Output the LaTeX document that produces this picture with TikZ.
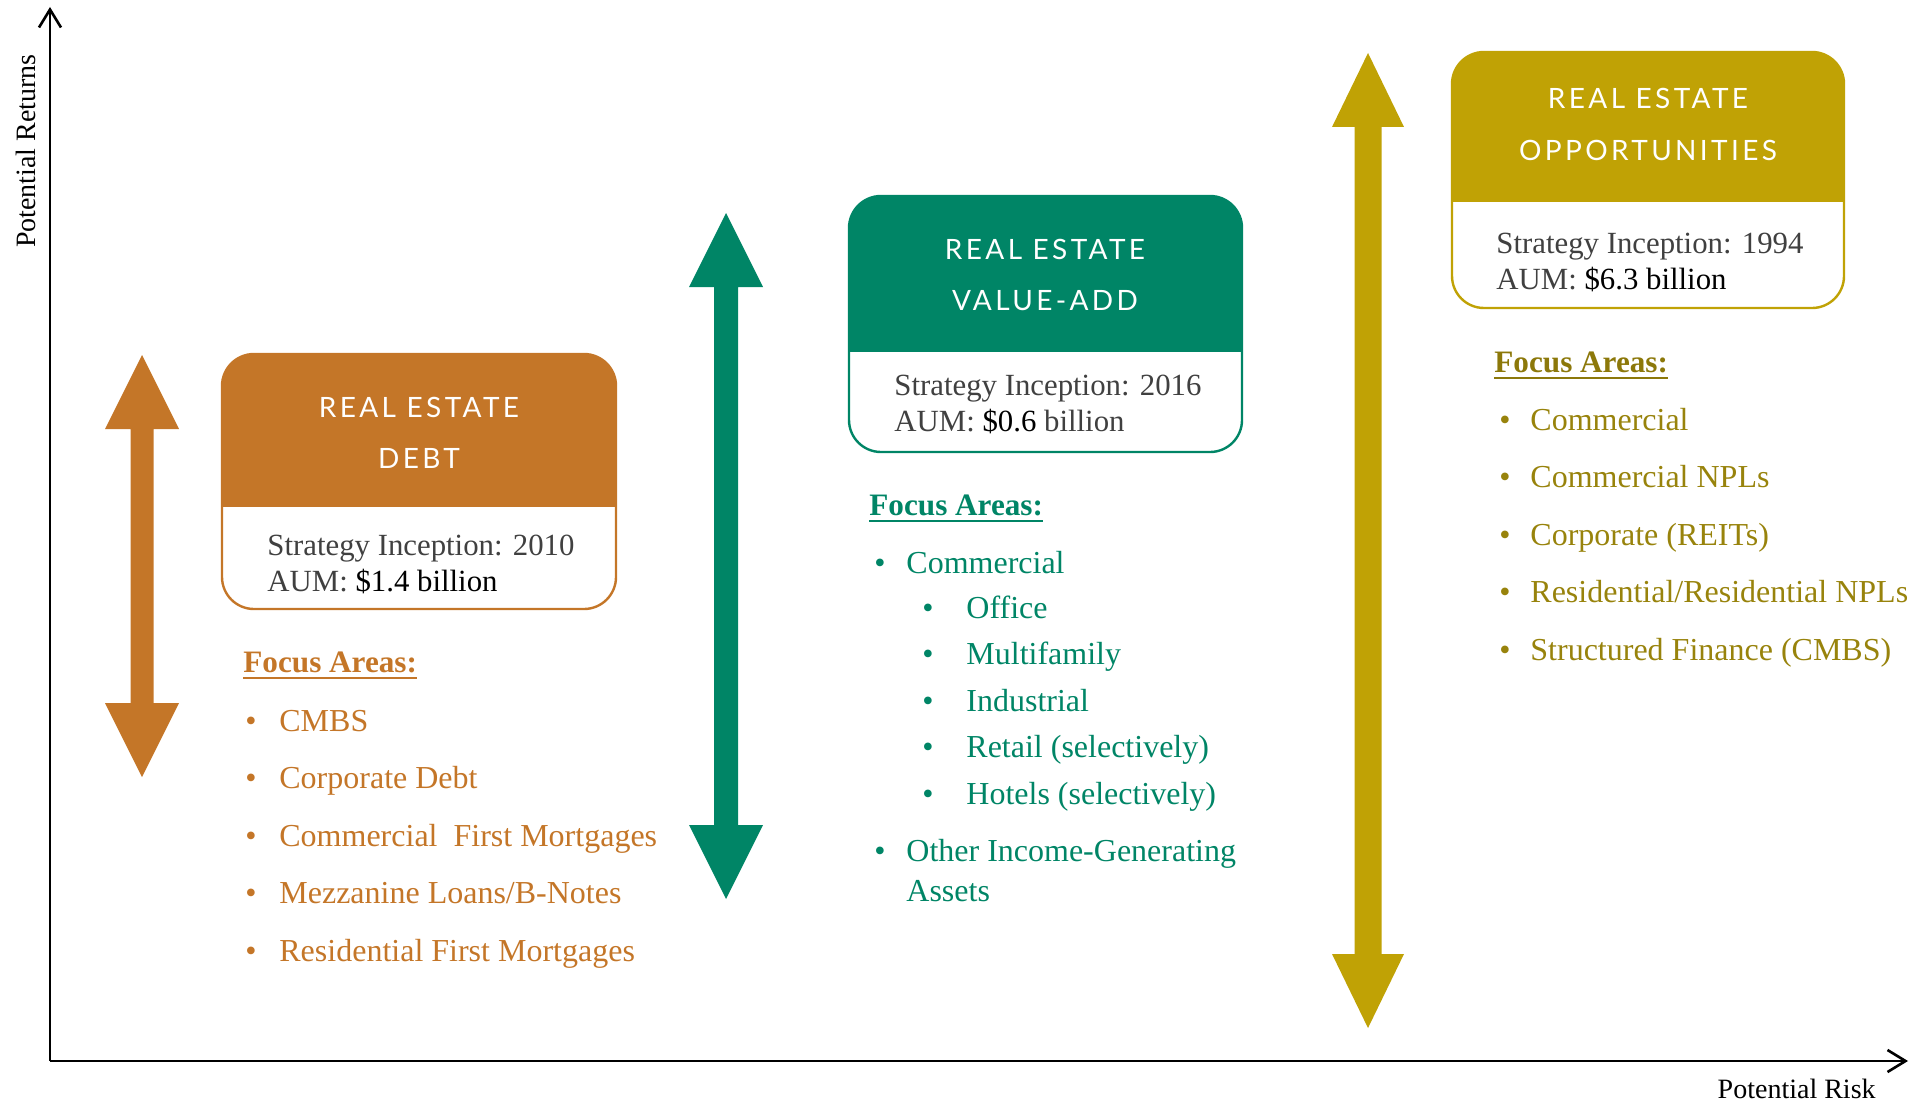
\documentclass[tikz,border=0pt]{standalone}
\usepackage{fontspec}
\setmainfont{Liberation Serif}
\newfontfamily\headfont[LetterSpace=12]{Lato}
\usetikzlibrary{arrows.meta}

\definecolor{debtcol}{RGB}{196,118,40}
\definecolor{valuecol}{RGB}{0,133,102}
\definecolor{oppcol}{RGB}{192,162,5}
\definecolor{opptext}{RGB}{152,131,12}
\definecolor{oppfocus}{RGB}{140,120,10}
\definecolor{infogray}{RGB}{64,64,64}

% two-headed block arrow: colour, x, top, bottom, half shaft, half head
\newcommand{\twoway}[6]{%
  \fill[#1] (#2,#3) -- (#2+#6,#3+74) -- (#2+#5,#3+74) -- (#2+#5,#4-74) -- (#2+#6,#4-74)
    -- (#2,#4) -- (#2-#6,#4-74) -- (#2-#5,#4-74) -- (#2-#5,#3+74) -- (#2-#6,#3+74) -- cycle;}

% strategy box: colour, left, top, header bottom, right, bottom
\newcommand{\stratbox}[6]{%
  \begin{scope}
    \clip[rounded corners=16pt] (#2,#3) rectangle (#5,#6);
    \fill[#1] (#2,#3) rectangle (#5,#4);
  \end{scope}
  \draw[#1,box line,rounded corners=16pt] (#2,#3) rectangle (#5,#6);}

\begin{document}
\begin{tikzpicture}[x=0.5pt,y=-0.5pt,
    axis/.style={line width=1.3pt,-{Straight Barb[length=9pt,width=11pt,line width=1.3pt]}},
    axis label/.style={font=\fontsize{14}{16}\selectfont,inner sep=0pt},
    head text/.style={font=\headfont\fontsize{14}{16}\selectfont,text=white,inner sep=0pt,anchor=base},
    info text/.style={font=\fontsize{15.4}{18}\selectfont,text=infogray,inner sep=0pt,anchor=base west},
    focus/.style={font=\bfseries\fontsize{15.6}{18}\selectfont,inner sep=0pt,anchor=base west},
    item/.style={font=\fontsize{16}{18}\selectfont,inner sep=0pt,anchor=base west},
    box line/.style={line width=1.2pt},
    under line/.style={line width=1.2pt}]
    \useasboundingbox (0,0) rectangle (1927,1102);

    % axes
    \coordinate (origin) at (50,1061);
    \coordinate (ytop) at (50,7);
    \coordinate (xend) at (1908,1061);
    \draw[axis] (origin) -- (ytop);
    \draw[axis] (origin) -- (xend);
    \node[axis label,rotate=90,anchor=base] (returns) at (35,151) {Potential Returns};
    \node[axis label,anchor=base east] (risk) at (1876,1098) {Potential Risk};

    % range arrows
    \twoway{debtcol}{142}{355}{777}{11.5}{37}
    \twoway{valuecol}{726}{213}{899}{12}{37}
    \twoway{oppcol}{1368}{53}{1028}{13.5}{36}

    % debt
    \stratbox{debtcol}{222}{354}{507}{616}{609}
    \node[head text] (debt t1) at (419,417) {REAL ESTATE};
    \node[head text] (debt t2) at (419,468) {DEBT};
    \node[info text] (debt since) at (267,555) {Strategy Inception: 2010};
    \node[info text] (debt aum) at (267,591) {AUM: {\color{black}\$1.4 billion}};
    \node[focus,text=debtcol] (debt focus) at (243,672) {Focus Areas:};
    \draw[under line,debtcol] ([yshift=-3pt]debt focus.base west) -- ([yshift=-3pt]debt focus.base east);
    \foreach \txt [count=\i] in {CMBS,Corporate Debt,Commercial\ \ First Mortgages,Mezzanine Loans/B-Notes,Residential First Mortgages}{
        \node[item,text=debtcol] (debt bullet \i) at (245,{731+57.5*(\i-1)}) {\textbullet};
        \node[item,text=debtcol] (debt item \i) at (279,{731+57.5*(\i-1)}) {\txt};
    }

    % value-add
    \stratbox{valuecol}{849}{196}{352}{1242}{452}
    \node[head text] (value t1) at (1045,259) {REAL ESTATE};
    \node[head text] (value t2) at (1045,310) {VALUE-ADD};
    \node[info text] (value since) at (894,395) {Strategy Inception: 2016};
    \node[info text] (value aum) at (894,431) {AUM: {\color{black}\$0.6} billion};
    \node[focus,text=valuecol] (value focus) at (869,515) {Focus Areas:};
    \draw[under line,valuecol] ([yshift=-3pt]value focus.base west) -- ([yshift=-3pt]value focus.base east);
    \node[item,text=valuecol] (value bullet) at (874,573) {\textbullet};
    \node[item,text=valuecol] (value item) at (906,573) {Commercial};
    \foreach \txt [count=\i] in {Office,Multifamily,Industrial,Retail (selectively),Hotels (selectively)}{
        \node[item,text=valuecol] (value subbullet \i) at (922,{618+46.5*(\i-1)}) {\textbullet};
        \node[item,text=valuecol] (value sub \i) at (966,{618+46.5*(\i-1)}) {\txt};
    }
    \node[item,text=valuecol] (value bullet 2) at (874,861) {\textbullet};
    \node[item,text=valuecol] (value other) at (906,861) {Other Income-Generating};
    \node[item,text=valuecol] (value assets) at (906,901) {Assets};

    % opportunities
    \stratbox{oppcol}{1452}{52}{202}{1844}{308}
    \node[head text] (opp t1) at (1648,109) {REAL ESTATE};
    \node[head text] (opp t2) at (1648,161) {OPPORTUNITIES};
    \node[info text] (opp since) at (1496,253) {Strategy Inception: 1994};
    \node[info text] (opp aum) at (1496,289) {AUM: {\color{black}\$6.3 billion}};
    \node[focus,text=oppfocus] (opp focus) at (1494,372) {Focus Areas:};
    \draw[under line,oppfocus] ([yshift=-3pt]opp focus.base west) -- ([yshift=-3pt]opp focus.base east);
    \foreach \txt [count=\i] in {Commercial,Commercial NPLs,Corporate (REITs),Residential/Residential NPLs,Structured Finance (CMBS)}{
        \node[item,text=opptext] (opp bullet \i) at (1499,{430+57.5*(\i-1)}) {\textbullet};
        \node[item,text=opptext] (opp item \i) at (1530,{430+57.5*(\i-1)}) {\txt};
    }
\end{tikzpicture}
\end{document}
